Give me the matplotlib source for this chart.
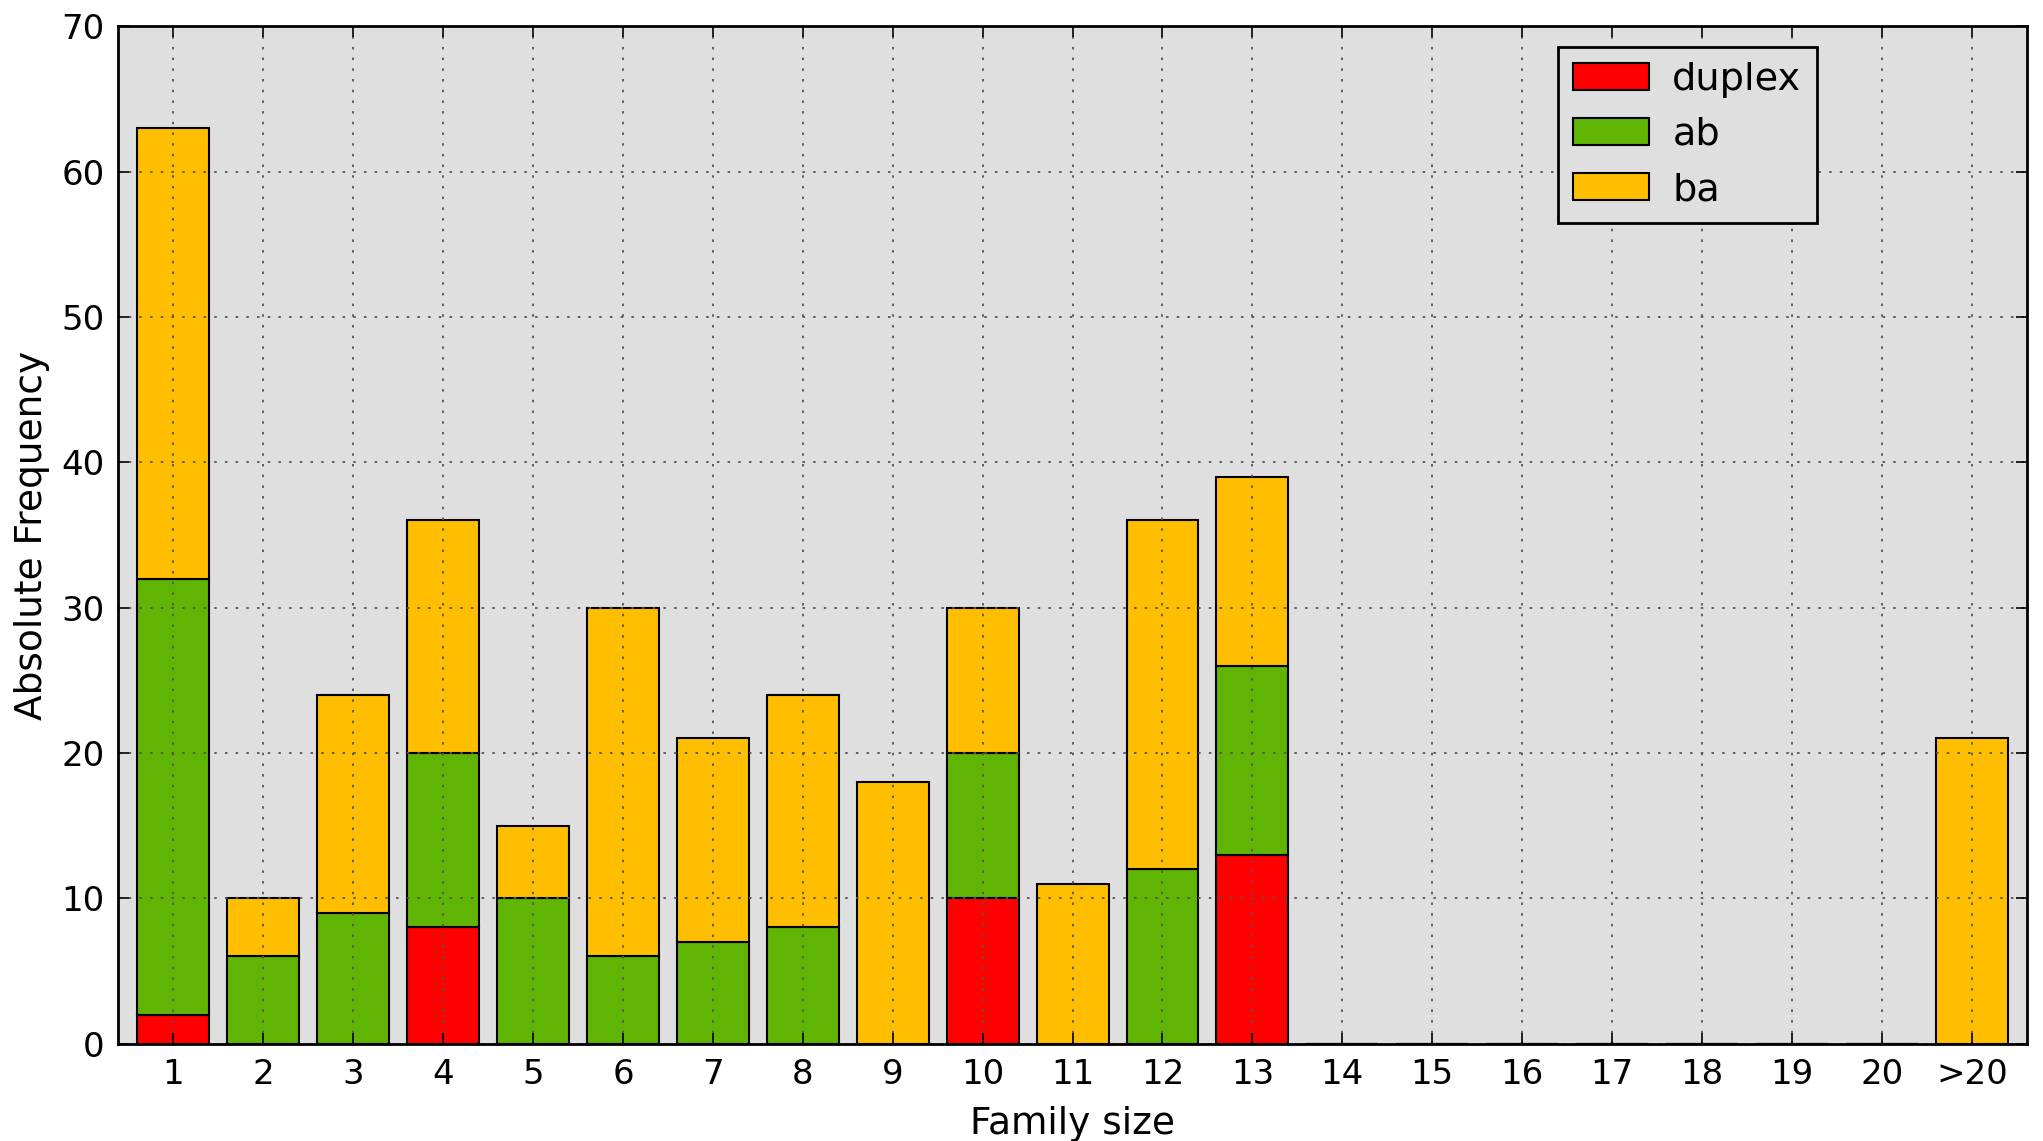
import numpy as np
import matplotlib
matplotlib.use('Agg')
import matplotlib.pyplot as plt

# Family size categories and stacked counts
sizes = ['1', '2', '3', '4', '5', '6', '7', '8', '9', '10', '11', '12', '13',
         '14', '15', '16', '17', '18', '19', '20', '>20']
duplex = [2, 0, 0, 8, 0, 0, 0, 0, 0, 10, 0, 0, 13, 0, 0, 0, 0, 0, 0, 0, 0]
ab = [30, 6, 9, 12, 10, 6, 7, 8, 0, 10, 0, 12, 13, 0, 0, 0, 0, 0, 0, 0, 0]
ba = [31, 4, 15, 16, 5, 24, 14, 16, 18, 10, 11, 24, 13, 0, 0, 0, 0, 0, 0, 0, 21]

x = np.arange(1, len(sizes) + 1)
duplex = np.array(duplex)
ab = np.array(ab)
ba = np.array(ba)

plt.rcParams['lines.scale_dashes'] = False

bg = '#dfdfdf'
fig = plt.figure(figsize=(20.43, 11.41), dpi=100)
ax = fig.add_axes([0.058, 0.0853, 0.934, 0.8917])
ax.set_facecolor(bg)

ax.bar(x, duplex, width=0.8, color='#ff0000', edgecolor='black', linewidth=1.5, label='duplex', zorder=1)
ax.bar(x, ab, width=0.8, bottom=duplex, color='#5fb404', edgecolor='black', linewidth=1.5, label='ab', zorder=1)
ax.bar(x, ba, width=0.8, bottom=duplex + ab, color='#ffbf00', edgecolor='black', linewidth=1.5, label='ba', zorder=1)

ax.set_xlim(0.39, 21.61)
ax.set_ylim(0, 70)
ax.set_xticks(x)
ax.set_xticklabels(sizes)
ax.set_yticks(np.arange(0, 71, 10))
ax.tick_params(direction='in', top=True, right=True, length=8, width=1.2, labelsize=24.5, pad=10)
# grid drawn over the bars, sparse dots
ax.set_axisbelow(False)
ax.grid(True, color='#555555', linestyle=(0, (1.8, 5.9)), linewidth=1.3, zorder=2)
for s in ax.spines.values():
    s.set_linewidth(2)
    s.set_zorder(3)

ax.set_xlabel('Family size', fontsize=27, labelpad=11)
ax.set_ylabel('Absolute Frequency', fontsize=27, labelpad=8)

leg = ax.legend(loc='upper right', bbox_to_anchor=(0.89, 0.98), borderaxespad=0,
                fontsize=27.5, handletextpad=0.6, fancybox=False, edgecolor='black',
                facecolor=bg, framealpha=1)
leg.get_frame().set_linewidth(2)
leg.set_zorder(5)

fig.savefig('out.png', dpi=100)
